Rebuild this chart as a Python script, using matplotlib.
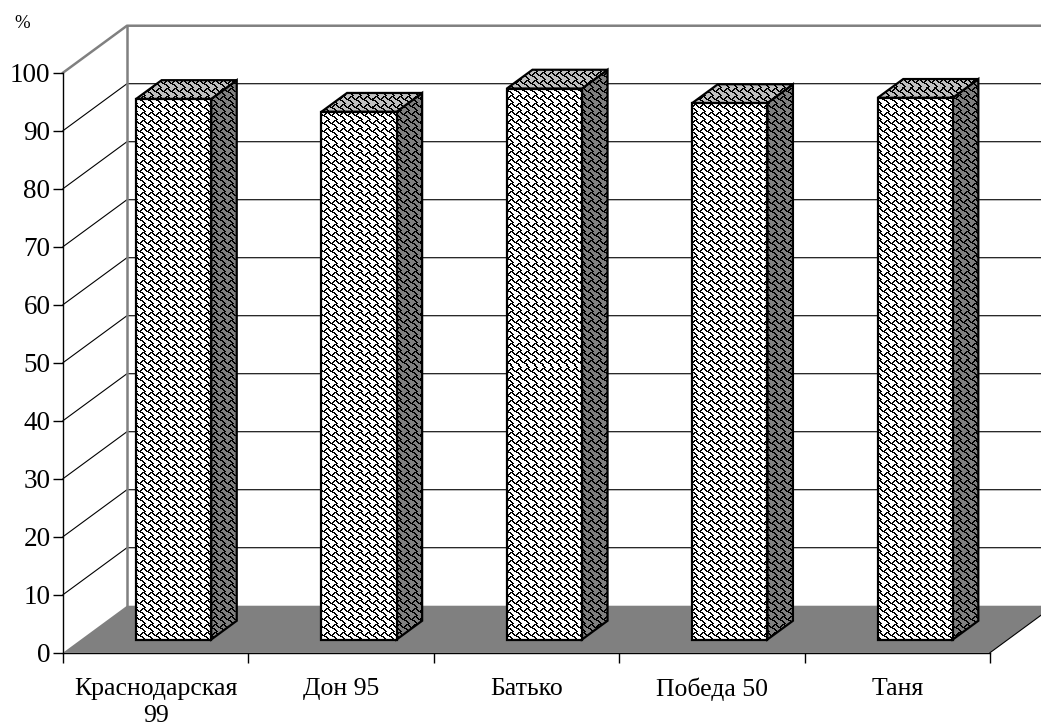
import matplotlib
matplotlib.use('Agg')
import matplotlib.pyplot as plt
from matplotlib.patches import Polygon
from matplotlib.colors import to_rgb
import numpy as np

plt.rcParams['font.family'] = ['Liberation Serif', 'DejaVu Serif']

varieties = ['Краснодарская\n99', 'Дон 95', 'Батько', 'Победа 50', 'Таня']
values = [93.2, 91.0, 95.0, 92.5, 93.4]
y_ticks = list(range(0, 101, 10))

# oblique offset of the back wall (x in category units, y in %)
DX, DY = 0.345, 8.1
D0, D1 = 0.28, 0.68      # depth of bar front / back
BAR_W = 0.405

# 8x8 shingle fill, one byte per row, leftmost pixel = bit 7; strokes 2 px wide
PATTERN = [0x03, 0x84, 0x48, 0x30, 0x0c, 0x02, 0x01, 0x80]
tile = np.array([[(b >> (7 - k)) & 1 for k in range(8)] for b in PATTERN], dtype=bool)
tile = tile | np.roll(tile, 1, axis=1)

W, H = 1041, 726
fig = plt.figure(figsize=(W / 100, H / 100), dpi=100)
ax = fig.add_axes([0, 0, 1, 1])
XLIM = (-63 / 185.4, (W - 63) / 185.4)
YLIM = (-(H - 652.7) / 5.8, 652.7 / 5.8)
ax.set_xlim(*XLIM)
ax.set_ylim(*YLIM)
ax.set_autoscale_on(False)


def pattern_fill(pts, bg, z):
    poly = Polygon(pts, closed=True, facecolor='none', edgecolor='none',
                   transform=ax.transData)
    ax.add_patch(poly)
    px = ax.transData.transform(pts)
    x0, y0 = np.floor(px.min(0)).astype(int)
    x1, y1 = np.ceil(px.max(0)).astype(int)
    w, h = x1 - x0, y1 - y0
    rows = (H - y1) + np.arange(h)
    cols = x0 + np.arange(w)
    mask = tile[rows[:, None] % 8, cols[None, :] % 8]
    img = np.empty((h, w, 3))
    img[:] = to_rgb(bg)
    img[mask] = 0
    inv = ax.transData.inverted()
    l, b = inv.transform((x0, y0))
    r, t = inv.transform((x1, y1))
    im = ax.imshow(img, extent=(l, r, b, t), origin='upper',
                   interpolation='nearest', aspect='auto', zorder=z)
    im.set_clip_path(poly)
    ax.add_patch(Polygon(pts, closed=True, facecolor='none', edgecolor='black',
                         lw=1.6, joinstyle='miter', zorder=z + 0.1))


n = len(varieties)
grey = '#808080'

# walls
ax.add_patch(Polygon([(DX, DY), (n + DX, DY), (n + DX, 100 + DY), (DX, 100 + DY)],
                     facecolor='white', edgecolor='none', zorder=0.5))
ax.add_patch(Polygon([(0, 0), (DX, DY), (DX, 100 + DY), (0, 100)],
                     facecolor='white', edgecolor='none', zorder=0.5))
for v in y_ticks[1:-1]:
    ax.plot([0, DX, n + DX], [v, v + DY, v + DY], color='black', lw=0.8, zorder=1)
ax.plot([0, DX, n + DX], [100, 100 + DY, 100 + DY], color=grey, lw=1.8, zorder=1.1)
ax.plot([DX, DX], [DY, 100 + DY], color=grey, lw=1.8, zorder=1.1)

# floor
ax.add_patch(Polygon([(0, 0), (n, 0), (n + DX, DY), (DX, DY)],
                     facecolor=grey, edgecolor='none', zorder=1.5))
ax.plot([n, n + DX], [0, DY], color='black', lw=0.8, zorder=1.6)

# bars
for i, v in enumerate(values):
    bl = i + 0.5 - BAR_W / 2
    br = bl + BAR_W
    fx, fy = D0 * DX, D0 * DY
    bx, by = D1 * DX, D1 * DY
    side = [(br + fx, fy), (br + bx, by), (br + bx, v + by), (br + fx, v + fy)]
    top = [(bl + fx, v + fy), (br + fx, v + fy), (br + bx, v + by), (bl + bx, v + by)]
    front = [(bl + fx, fy), (br + fx, fy), (br + fx, v + fy), (bl + fx, v + fy)]
    pattern_fill(side, grey, 3)
    pattern_fill(top, '#c0c0c0', 3.2)
    pattern_fill(front, 'white', 3.4)

# axes
for s in ['top', 'right']:
    ax.spines[s].set_visible(False)
ax.spines['left'].set_position(('data', 0))
ax.spines['left'].set_bounds(0, 100)
ax.spines['bottom'].set_position(('data', 0))
ax.spines['bottom'].set_bounds(0, n)
for s in ['left', 'bottom']:
    ax.spines[s].set_linewidth(1.0)
    ax.spines[s].set_zorder(5)

ax.set_yticks(y_ticks)
ax.set_yticklabels([str(t) for t in y_ticks], fontsize=19.5)
ax.tick_params(axis='y', direction='out', length=7, width=1, pad=2)
ax.set_xticks(range(n + 1))
ax.set_xticklabels([])
ax.set_xticks(np.arange(n) + 0.5, minor=True)
ax.set_xticklabels(varieties, minor=True, fontsize=18.5, linespacing=1.3)
ax.tick_params(axis='x', which='major', direction='out', length=7, width=1)
ax.tick_params(axis='x', which='minor', length=0, pad=18)

fig.text(14 / W, 1 - 24 / H, '%', fontsize=13.5, va='center', ha='left')

fig.savefig('out.png', dpi=100)
